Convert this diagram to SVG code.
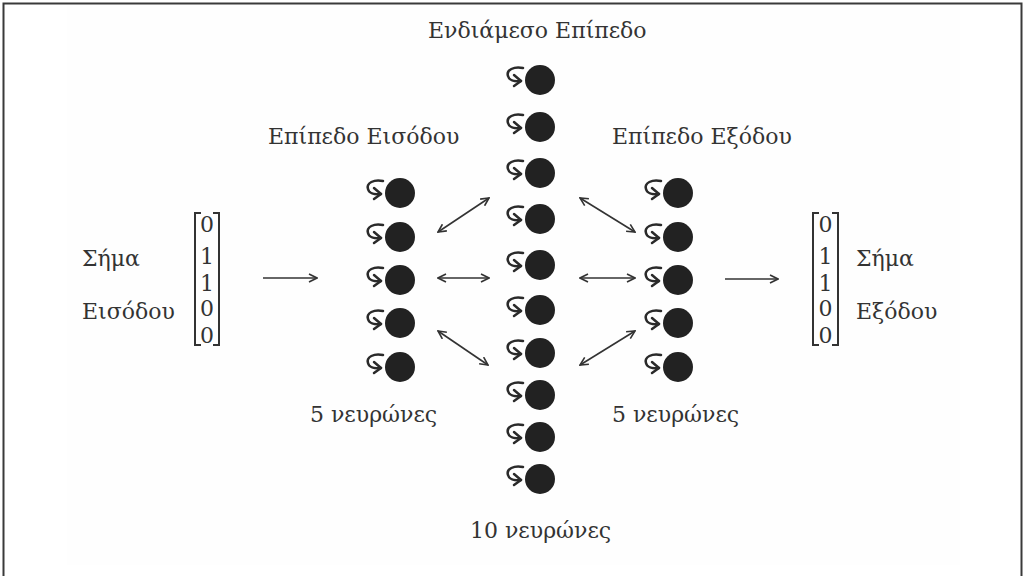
<svg xmlns="http://www.w3.org/2000/svg" xmlns:xlink="http://www.w3.org/1999/xlink" width="1025" height="576" viewBox="0 0 1025 576">
<style>
.t{font-family:"DejaVu Serif","Liberation Serif",serif;font-size:22px;fill:#333}
.d{font-family:"DejaVu Serif","Liberation Serif",serif;font-size:22px;fill:#333;text-anchor:middle}
.c{fill:#222}
.lp{fill:none;stroke:#2a2a2a;stroke-width:2.5;stroke-linecap:round;stroke-linejoin:round}
.ar{fill:none;stroke:#333;stroke-width:1.6}
.br{fill:none;stroke:#333;stroke-width:2}
</style>
<defs>
<marker id="ah" viewBox="0 0 10 10" refX="9" refY="5" markerWidth="10" markerHeight="10" markerUnits="userSpaceOnUse" orient="auto-start-reverse">
<path d="M1 1 L9 5 L1 9" fill="none" stroke="#333" stroke-width="1.6"/>
</marker>
<g id="nd">
<circle class="c" cx="0" cy="0" r="15"/>
<path class="lp" d="M-17 -12 C-26 -14 -34 -10 -32 -4 C-31 0 -26 2 -19 1"/>
<path class="lp" d="M-26 -5 L-19 1 L-26 6"/>
</g>
</defs>
<rect width="1025" height="576" fill="#fff"/>
<rect x="67" y="5" width="893" height="560" fill="#fefefe"/>
<path d="M3.5 576 V3.5 H1021.5 V576" fill="none" stroke="#3a3a3a" stroke-width="2"/>

<g id="labels">
<text class="t" x="428" y="38">Ενδιάμεσο Επίπεδο</text>
<text class="t" x="268" y="144">Επίπεδο Εισόδου</text>
<text class="t" x="612" y="144">Επίπεδο Εξόδου</text>
<text class="t" x="310" y="422">5 νευρώνες</text>
<text class="t" x="612" y="422">5 νευρώνες</text>
<text class="t" x="470" y="538">10 νευρώνες</text>
</g>

<g id="input-signal">
<text class="t" x="82" y="266">Σήμα</text>
<text class="t" x="82" y="319">Εισόδου</text>
<path class="br" d="M201 213 H195 V345 H201"/>
<path class="br" d="M213 213 H219 V345 H213"/>
<text class="d" x="207" y="232">0</text>
<text class="d" x="207" y="264">1</text>
<text class="d" x="207" y="291">1</text>
<text class="d" x="207" y="316">0</text>
<text class="d" x="207" y="343">0</text>
</g>

<g id="output-signal">
<text class="t" x="856" y="266">Σήμα</text>
<text class="t" x="856" y="319">Εξόδου</text>
<path class="br" d="M819 213 H813 V345 H819"/>
<path class="br" d="M832 213 H838 V345 H832"/>
<text class="d" x="825.5" y="232">0</text>
<text class="d" x="825.5" y="264">1</text>
<text class="d" x="825.5" y="291">1</text>
<text class="d" x="825.5" y="316">0</text>
<text class="d" x="825.5" y="343">0</text>
</g>

<g id="input-layer">
<g id="in1"><use xlink:href="#nd" x="400" y="193"/></g>
<g id="in2"><use xlink:href="#nd" x="400" y="237"/></g>
<g id="in3"><use xlink:href="#nd" x="400" y="280"/></g>
<g id="in4"><use xlink:href="#nd" x="400" y="323"/></g>
<g id="in5"><use xlink:href="#nd" x="400" y="367"/></g>
</g>

<g id="hidden-layer">
<g id="h1"><use xlink:href="#nd" x="540" y="80"/></g>
<g id="h2"><use xlink:href="#nd" x="540" y="127"/></g>
<g id="h3"><use xlink:href="#nd" x="540" y="173"/></g>
<g id="h4"><use xlink:href="#nd" x="540" y="219"/></g>
<g id="h5"><use xlink:href="#nd" x="540" y="265"/></g>
<g id="h6"><use xlink:href="#nd" x="540" y="310"/></g>
<g id="h7"><use xlink:href="#nd" x="540" y="353"/></g>
<g id="h8"><use xlink:href="#nd" x="540" y="395"/></g>
<g id="h9"><use xlink:href="#nd" x="540" y="437"/></g>
<g id="h10"><use xlink:href="#nd" x="540" y="479"/></g>
</g>

<g id="output-layer">
<g id="out1"><use xlink:href="#nd" x="678" y="193"/></g>
<g id="out2"><use xlink:href="#nd" x="678" y="237"/></g>
<g id="out3"><use xlink:href="#nd" x="678" y="280"/></g>
<g id="out4"><use xlink:href="#nd" x="678" y="323"/></g>
<g id="out5"><use xlink:href="#nd" x="678" y="367"/></g>
</g>

<g id="connectors">
<line class="ar" x1="263" y1="278" x2="317" y2="278" marker-end="url(#ah)"/>
<line class="ar" x1="438" y1="232" x2="489" y2="198" marker-start="url(#ah)" marker-end="url(#ah)"/>
<line class="ar" x1="438" y1="278" x2="489" y2="278" marker-start="url(#ah)" marker-end="url(#ah)"/>
<line class="ar" x1="438" y1="331" x2="488" y2="365" marker-start="url(#ah)" marker-end="url(#ah)"/>
<line class="ar" x1="580" y1="198" x2="635" y2="232" marker-start="url(#ah)" marker-end="url(#ah)"/>
<line class="ar" x1="580" y1="278" x2="635" y2="278" marker-start="url(#ah)" marker-end="url(#ah)"/>
<line class="ar" x1="580" y1="365" x2="635" y2="331" marker-start="url(#ah)" marker-end="url(#ah)"/>
<line class="ar" x1="725" y1="279" x2="778" y2="279" marker-end="url(#ah)"/>
</g>
</svg>
